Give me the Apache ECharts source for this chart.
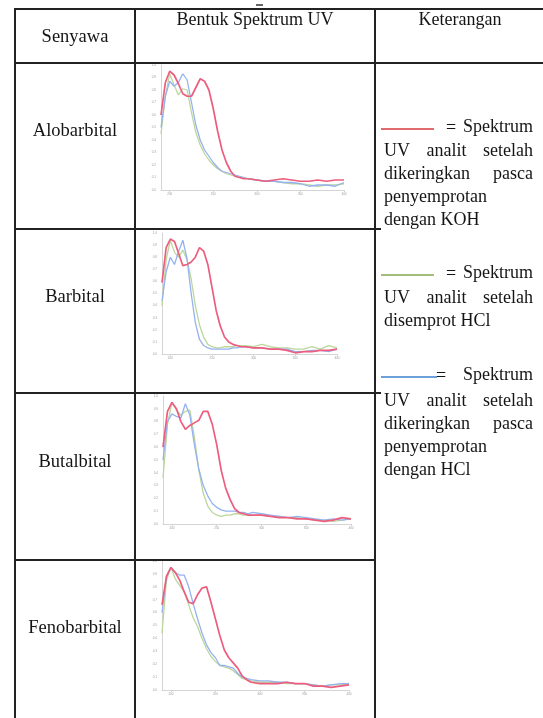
<!DOCTYPE html>
<html><head><meta charset="utf-8">
<script src="https://cdn.jsdelivr.net/npm/echarts@6/dist/echarts.min.js"></script>
<style>html,body{margin:0;padding:0;background:#fff}#c{width:543px;height:718px}</style>
</head><body><div id="c"></div>
<script>
// ---------- DATA ----------
const wavelengths = [190,195,200,205,210,215,220,225,230,235,240,245,250,255,260,265,270,275,280,285,290,300,310,320,330,340,350,360,370,380,390,400];
const xTickLabels = [200,250,300,350,400];
const yTickLabels = [0,0.1,0.2,0.3,0.4,0.5,0.6,0.7,0.8,0.9,1.0];
const compounds = ['Alobarbital','Barbital','Butalbital','Fenobarbital'];
const headers = ['Senyawa','Bentuk Spektrum UV','Keterangan'];

// red = dried after KOH spray, green = sprayed with HCl, blue = dried after HCl spray
const alobarbitalKOH = [0.60,0.86,0.95,0.92,0.85,0.77,0.75,0.75,0.82,0.89,0.87,0.80,0.65,0.47,0.32,0.22,0.15,0.11,0.10,0.09,0.09,0.08,0.07,0.08,0.09,0.08,0.07,0.07,0.08,0.07,0.08,0.08];
const alobarbitalHCl = [0.45,0.75,0.93,0.84,0.76,0.81,0.80,0.62,0.46,0.36,0.29,0.24,0.20,0.17,0.15,0.13,0.12,0.11,0.10,0.10,0.09,0.08,0.07,0.07,0.06,0.05,0.05,0.04,0.03,0.04,0.04,0.05];
const alobarbitalDry = [0.50,0.75,0.87,0.83,0.86,0.93,0.88,0.70,0.52,0.40,0.32,0.27,0.22,0.18,0.15,0.14,0.13,0.12,0.11,0.10,0.09,0.08,0.07,0.07,0.06,0.06,0.05,0.03,0.04,0.04,0.03,0.06];

const barbitalKOH = [0.59,0.88,0.95,0.93,0.83,0.73,0.74,0.76,0.80,0.88,0.85,0.74,0.55,0.36,0.23,0.14,0.10,0.08,0.07,0.06,0.06,0.05,0.05,0.04,0.04,0.03,0.01,0.02,0.02,0.03,0.03,0.04];
const barbitalHCl = [0.40,0.78,0.94,0.84,0.80,0.86,0.78,0.62,0.40,0.24,0.14,0.08,0.06,0.05,0.05,0.06,0.06,0.06,0.07,0.07,0.07,0.06,0.08,0.06,0.05,0.05,0.04,0.04,0.06,0.04,0.07,0.05];
const barbitalDry = [0.44,0.68,0.80,0.74,0.85,0.94,0.79,0.50,0.26,0.12,0.07,0.05,0.04,0.04,0.04,0.04,0.04,0.05,0.05,0.06,0.06,0.05,0.05,0.04,0.04,0.04,0.02,0.02,0.03,0.03,0.02,0.04];

const butalbitalKOH = [0.60,0.88,0.95,0.90,0.80,0.74,0.77,0.79,0.81,0.88,0.88,0.78,0.62,0.42,0.28,0.19,0.12,0.09,0.08,0.07,0.07,0.07,0.06,0.05,0.05,0.04,0.04,0.03,0.02,0.03,0.05,0.04];
const butalbitalHCl = [0.36,0.78,0.95,0.89,0.85,0.88,0.89,0.68,0.42,0.24,0.14,0.09,0.07,0.06,0.07,0.07,0.08,0.08,0.07,0.07,0.07,0.07,0.06,0.06,0.05,0.05,0.04,0.03,0.03,0.02,0.03,0.04];
const butalbitalDry = [0.50,0.80,0.86,0.84,0.83,0.94,0.85,0.62,0.43,0.30,0.22,0.16,0.13,0.11,0.10,0.10,0.10,0.09,0.09,0.08,0.09,0.08,0.07,0.06,0.05,0.06,0.05,0.04,0.03,0.04,0.03,0.04];

const fenobarbitalKOH = [0.66,0.88,0.95,0.91,0.85,0.76,0.68,0.67,0.74,0.79,0.80,0.68,0.55,0.42,0.31,0.25,0.21,0.17,0.11,0.08,0.06,0.05,0.05,0.05,0.06,0.05,0.05,0.03,0.03,0.02,0.03,0.04];
const fenobarbitalHCl = [0.44,0.85,0.95,0.86,0.81,0.76,0.66,0.56,0.49,0.40,0.32,0.26,0.22,0.19,0.18,0.17,0.15,0.12,0.09,0.08,0.07,0.06,0.06,0.06,0.05,0.05,0.05,0.04,0.03,0.04,0.04,0.05];
const fenobarbitalDry = [0.60,0.88,0.95,0.91,0.89,0.89,0.80,0.67,0.55,0.44,0.35,0.29,0.25,0.19,0.19,0.18,0.17,0.13,0.10,0.09,0.08,0.07,0.07,0.06,0.06,0.05,0.05,0.04,0.03,0.04,0.05,0.05];

const legendKOH = ['UV analit setelah','dikeringkan pasca','penyemprotan','dengan KOH'];
const legendHCl = ['UV analit setelah','disemprot HCl'];
const legendDry = ['UV analit setelah','dikeringkan pasca','penyemprotan','dengan HCl'];

// ---------- LAYOUT ----------
const seriesSets = [
  [alobarbitalHCl, alobarbitalDry, alobarbitalKOH],
  [barbitalHCl, barbitalDry, barbitalKOH],
  [butalbitalHCl, butalbitalDry, butalbitalKOH],
  [fenobarbitalHCl, fenobarbitalDry, fenobarbitalKOH]
];
const lineColors = ['#bcd69c', '#94b2ef', '#ec5d7e'];
const lineWidths = [1.3, 1.3, 1.7];
const gridRects = [
  {left:161, top:65, width:183, height:125},
  {left:162, top:233, width:175, height:121},
  {left:163, top:396, width:188, height:128},
  {left:162, top:561, width:187, height:129}
];
const labelY = [131, 297, 462, 628];

const FONT = '"Liberation Serif", "Times New Roman", serif';
const INK = '#151515';
const measureCtx = document.createElement('canvas').getContext('2d');

function txt(s, x, y, size, align, va) {
  return {type:'text', x:x, y:y, silent:true, z:100,
    style:{text:s, fontFamily:FONT, fontSize:size, fill:INK, align:align||'left', verticalAlign:va||'middle'}};
}
function justified(line, x0, x1, y, size) {
  const words = line.split(' ');
  measureCtx.font = size + 'px ' + FONT;
  const w = words.map(s => measureCtx.measureText(s).width);
  const total = w.reduce((a,b)=>a+b,0);
  const gap = words.length > 1 ? (x1 - x0 - total)/(words.length - 1) : 0;
  let x = x0; const out = [];
  words.forEach((s,i)=>{ out.push(txt(s, x, y, size, 'left')); x += w[i] + gap; });
  return out;
}
function hline(x1, x2, y, color, lw) {
  return {type:'line', silent:true, z:90, shape:{x1:x1,y1:y,x2:x2,y2:y}, style:{stroke:color||'#222', lineWidth:lw||2}};
}
function vline(x, y1, y2) {
  return {type:'line', silent:true, z:90, shape:{x1:x,y1:y1,x2:x,y2:y2}, style:{stroke:'#222', lineWidth:2}};
}

const graphic = [];
// table borders
graphic.push(hline(14, 543, 9));
graphic.push(hline(14, 543, 63));
graphic.push(hline(14, 381, 229));
graphic.push(hline(14, 381, 393));
graphic.push(hline(14, 376, 560));
graphic.push(vline(15, 8, 718));
graphic.push(vline(135, 8, 718));
graphic.push(vline(375, 8, 718));
graphic.push(hline(256, 263, 5, '#333', 1.5));
// headers
graphic.push(txt(headers[0], 75, 37.5, 18.5, 'center'));
graphic.push(txt(headers[1], 255, 20.5, 18, 'center'));
graphic.push(txt(headers[2], 460, 20.5, 18, 'center'));
// compound labels
compounds.forEach((c,i)=>graphic.push(txt(c, 75, labelY[i], 18.5, 'center')));

// right column legend
const TX0 = 384, TX1 = 533, FS = 18;
function legendBlock(color, lx1, lx2, ly, eqX, lines, startY) {
  graphic.push(hline(lx1, lx2, ly, color, 1.6));
  graphic.push(txt('=', eqX, ly - 1, FS, 'left'));
  graphic.push(txt('Spektrum', TX1, ly - 2, FS, 'right'));
  lines.forEach((l, i) => {
    const y = startY + i * 23;
    const justify = (l === 'UV analit setelah' || l === 'dikeringkan pasca');
    if (justify) justified(l, TX0, TX1, y, FS).forEach(g=>graphic.push(g));
    else graphic.push(txt(l, TX0, y, FS, 'left'));
  });
}
legendBlock('#d7383e', 381, 434, 129, 446, legendKOH, 151);
legendBlock('#85a84a', 381, 434, 275, 446, legendHCl, 298);
legendBlock('#3c80cc', 381, 437, 377, 436, legendDry, 401);

// ---------- CHART ----------
const grid = [], xAxis = [], yAxis = [], series = [];
gridRects.forEach((r, i) => {
  grid.push(Object.assign({containLabel:false}, r));
  xAxis.push({type:'value', gridIndex:i, min:190, max:400,
    axisLine:{show:true, lineStyle:{color:'#d4d4d4', width:1}},
    axisTick:{show:true, length:2, customValues:xTickLabels, lineStyle:{color:'#d4d4d4'}},
    axisLabel:{show:true, customValues:xTickLabels, fontSize:3, color:'#9a9a9a', margin:3},
    splitLine:{show:false}});
  yAxis.push({type:'value', gridIndex:i, min:0, max:1, interval:0.1,
    axisLine:{show:true, lineStyle:{color:'#d4d4d4', width:1}},
    axisTick:{show:false},
    axisLabel:{show:true, fontSize:3, color:'#9a9a9a', margin:5, formatter:v=>v.toFixed(1)},
    splitLine:{show:false}});
  seriesSets[i].forEach((arr, k) => {
    series.push({type:'line', xAxisIndex:i, yAxisIndex:i, showSymbol:false, symbol:'none',
      silent:true, z:2+k,
      data: wavelengths.map((w, j) => [w, arr[j]]),
      lineStyle:{color:lineColors[k], width:lineWidths[k]}});
  });
});

const chart = echarts.init(document.getElementById('c'), null, {renderer:'canvas'});
chart.setOption({animation:false, backgroundColor:'#fff', grid, xAxis, yAxis, series, graphic});
</script></body></html>
